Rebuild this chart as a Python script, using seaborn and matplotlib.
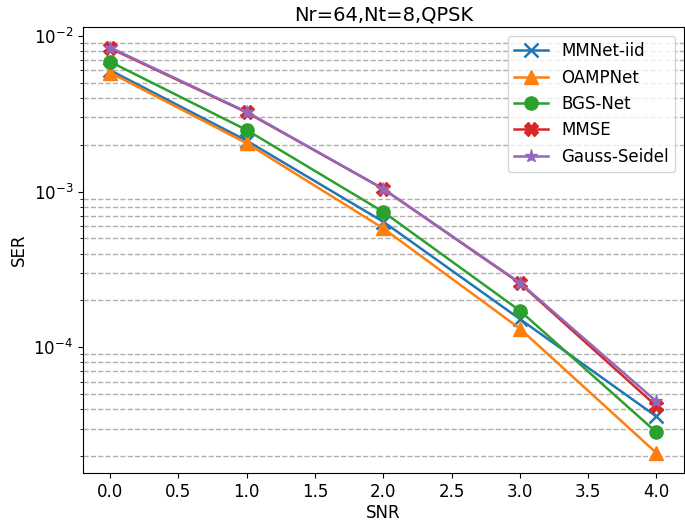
import numpy as np
import pandas as pd
import seaborn as sns
import matplotlib
matplotlib.use("Agg")
import matplotlib.pyplot as plt

snr = [0.0, 1.0, 2.0, 3.0, 4.0]

mmnet_iid = [6.0e-3, 2.12e-3, 6.4e-4, 1.52e-4, 3.6e-5]
oampnet = [5.8e-3, 2.04e-3, 5.8e-4, 1.32e-4, 2.1e-5]
bgs_net = [6.8e-3, 2.48e-3, 7.4e-4, 1.72e-4, 2.85e-5]
mmse = [8.3e-3, 3.22e-3, 1.04e-3, 2.58e-4, 4.2e-5]
gauss_seidel = [8.4e-3, 3.24e-3, 1.04e-3, 2.6e-4, 4.5e-5]

names = ["MMNet-iid", "OAMPNet", "BGS-Net", "MMSE", "Gauss-Seidel"]
markers = ["x", "^", "o", "X", "*"]
series = [mmnet_iid, oampnet, bgs_net, mmse, gauss_seidel]
colors = sns.color_palette("tab10", 5)

plt.rcParams["font.size"] = 12
plt.rcParams["axes.titlesize"] = 14

fig, ax = plt.subplots(figsize=(6.85, 5.24), dpi=100)
fig.subplots_adjust(left=0.121, right=0.998, top=0.948, bottom=0.097)

for name, vals, mk, c in zip(names, series, markers, colors):
    df = pd.DataFrame({"SNR": snr, "SER": vals})
    sns.lineplot(data=df, x="SNR", y="SER", marker=mk, markersize=9.5,
                 color=c, label=name, ax=ax, markeredgecolor=c, linewidth=1.8,
                 markeredgewidth=1.8 if mk == "x" else 1)

ax.set_yscale("log")
ax.grid(which="minor", axis="y", linestyle="--", color="#b0b0b0", linewidth=1.0)
ax.set_title("Nr=64,Nt=8,QPSK", pad=5)
ax.set_xlabel("SNR", labelpad=2)
ax.set_ylabel("SER")
ax.legend(loc="upper right")

fig.savefig("out.png", dpi=100)
